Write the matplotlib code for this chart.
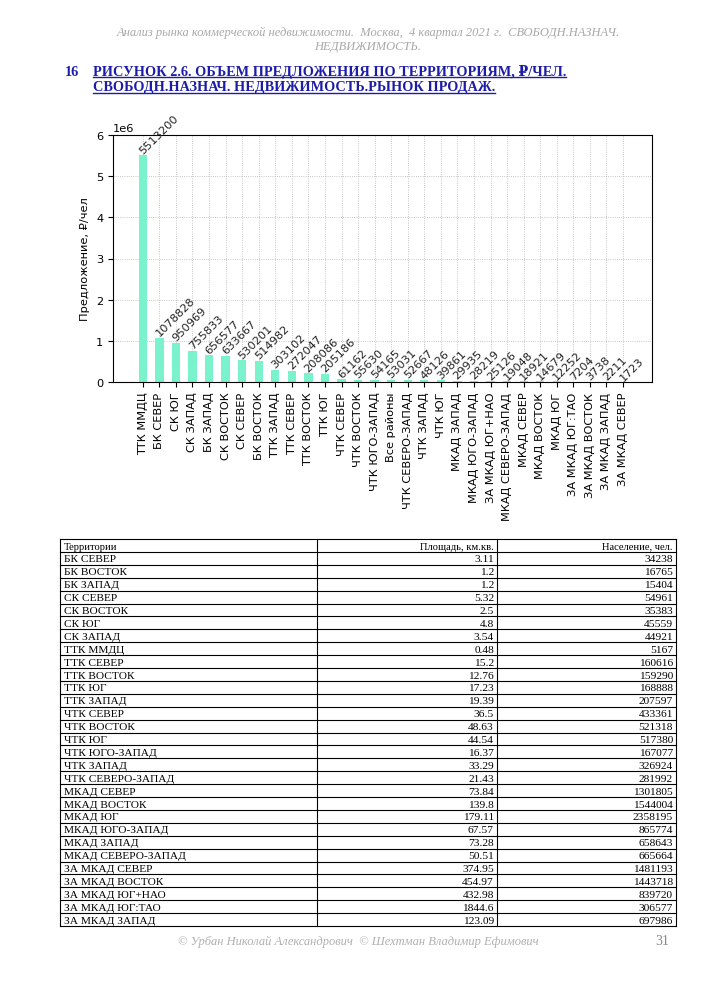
import matplotlib
matplotlib.use("Agg")
import matplotlib.pyplot as plt
from matplotlib.lines import Line2D

# ---------------- data ----------------
categories = ["ТТК ММДЦ", "БК СЕВЕР", "СК ЮГ", "СК ЗАПАД", "БК ЗАПАД", "СК ВОСТОК",
              "СК СЕВЕР", "БК ВОСТОК", "ТТК ЗАПАД", "ТТК СЕВЕР", "ТТК ВОСТОК", "ТТК ЮГ",
              "ЧТК СЕВЕР", "ЧТК ВОСТОК", "ЧТК ЮГО-ЗАПАД", "Все районы", "ЧТК СЕВЕРО-ЗАПАД",
              "ЧТК ЗАПАД", "ЧТК ЮГ", "МКАД ЗАПАД", "МКАД ЮГО-ЗАПАД", "ЗА МКАД ЮГ+НАО",
              "МКАД СЕВЕРО-ЗАПАД", "МКАД СЕВЕР", "МКАД ВОСТОК", "МКАД ЮГ", "ЗА МКАД ЮГ:ТАО",
              "ЗА МКАД ВОСТОК", "ЗА МКАД ЗАПАД", "ЗА МКАД СЕВЕР"]
values = [5513200, 1078828, 950969, 755833, 656577, 633667, 530201, 514982, 303102,
          272047, 208086, 205186, 61162, 55630, 54165, 53031, 52667, 48126, 39861,
          29935, 28219, 25126, 19048, 18921, 14679, 12252, 7204, 3738, 2211, 1723]

table_header = ["Территории", "Площадь, км.кв.", "Население, чел."]
territories = ["БК СЕВЕР", "БК ВОСТОК", "БК ЗАПАД", "СК СЕВЕР", "СК ВОСТОК", "СК ЮГ",
               "СК ЗАПАД", "ТТК ММДЦ", "ТТК СЕВЕР", "ТТК ВОСТОК", "ТТК ЮГ", "ТТК ЗАПАД",
               "ЧТК СЕВЕР", "ЧТК ВОСТОК", "ЧТК ЮГ", "ЧТК ЮГО-ЗАПАД", "ЧТК ЗАПАД",
               "ЧТК СЕВЕРО-ЗАПАД", "МКАД СЕВЕР", "МКАД ВОСТОК", "МКАД ЮГ", "МКАД ЮГО-ЗАПАД",
               "МКАД ЗАПАД", "МКАД СЕВЕРО-ЗАПАД", "ЗА МКАД СЕВЕР", "ЗА МКАД ВОСТОК",
               "ЗА МКАД ЮГ+НАО", "ЗА МКАД ЮГ:ТАО", "ЗА МКАД ЗАПАД"]
area = ["3.11", "1.2", "1.2", "5.32", "2.5", "4.8", "3.54", "0.48", "15.2", "12.76",
        "17.23", "19.39", "36.5", "48.63", "44.54", "16.37", "33.29", "21.43", "73.84",
        "139.8", "179.11", "67.57", "73.28", "50.51", "374.95", "454.97", "432.98",
        "1844.6", "123.09"]
population = ["34238", "16765", "15404", "54961", "35383", "45559", "44921", "5167",
              "160616", "159290", "168888", "207597", "433361", "521318", "517380",
              "167077", "326924", "281992", "1301805", "1544004", "2358195", "865774",
              "658643", "665664", "1481193", "1443718", "839720", "306577", "697986"]

header_lines = ["Анализ рынка коммерческой недвижимости.  Москва,  4 квартал 2021 г.  СВОБОДН.НАЗНАЧ.",
                "НЕДВИЖИМОСТЬ."]
title_num = "16"
title_lines = ["РИСУНОК 2.6. ОБЪЕМ ПРЕДЛОЖЕНИЯ ПО ТЕРРИТОРИЯМ, ₽/ЧЕЛ.",
               "СВОБОДН.НАЗНАЧ. НЕДВИЖИМОСТЬ.РЫНОК ПРОДАЖ."]
footer_text = "© Урбан Николай Александрович  © Шехтман Владимир Ефимович"
page_num = "31"

# ---------------- figure ----------------
W, H = 708, 987
fig = plt.figure(figsize=(W / 100, H / 100), dpi=100)
fig.patch.set_facecolor("white")

def fx(px):
    return px / W

def fy(py):
    return 1 - py / H

serif = ["Liberation Serif", "DejaVu Serif"]

# header
for i, line in enumerate(header_lines):
    fig.text(fx(368), fy(33 + 14 * i), line, ha="center", va="center",
             family=serif, style="italic", fontsize=9.0, color="#a8a8a8")

# title
title_color = "#1c1ca8"
fig.text(fx(65), fy(72), title_num, ha="left", va="center", family=serif,
         weight="bold", fontsize=10.3, color=title_color)
title_texts = []
for i, line in enumerate(title_lines):
    t = fig.text(fx(93), fy(72 + 16 * i), line, ha="left", va="center", family=serif,
                 weight="bold", fontsize=10.25, color=title_color)
    title_texts.append(t)

# ---------------- chart ----------------
ax_left, ax_right, ax_top, ax_bottom = 113, 652, 136, 383
ax = fig.add_axes([fx(ax_left), fy(ax_bottom), fx(ax_right - ax_left),
                   (ax_bottom - ax_top) / H])
x = list(range(len(categories)))
ax.bar(x, values, width=0.5, color="#7af2cb", zorder=2)
ax.set_axisbelow(True)
ax.grid(True, linestyle=":", linewidth=0.6, color="#b5b5b5")
ax.set_xlim(-1.8, len(categories) - 1 + 1.75)
ax.set_ylim(0, 6.0e6)
ax.set_xticks(x)
ax.set_xticklabels(categories, rotation=90, fontsize=8.2)
ax.tick_params(axis="y", labelsize=8.2)
ax.yaxis.get_offset_text().set_fontsize(8.2)
ax.set_ylabel("Предложение, ₽/чел", fontsize=8.2)
for xi, v in zip(x, values):
    ax.text(xi + 0.1, v, str(v), rotation=45, rotation_mode="anchor", ha="left",
            va="bottom", fontsize=8.2, color="#222222")

# ---------------- table ----------------
tab_top, tab_bottom = 540, 927
col_x = [60, 317, 497, 676]
rows = [table_header] + [[t, a, p] for t, a, p in zip(territories, area, population)]
n_rows = len(rows)
rh = (tab_bottom - tab_top) / n_rows
for r in range(n_rows + 1):
    yy = tab_top + r * rh
    fig.add_artist(Line2D([fx(col_x[0]), fx(col_x[-1])], [fy(yy), fy(yy)],
                          color="black", linewidth=0.8))
for cx in col_x:
    fig.add_artist(Line2D([fx(cx), fx(cx)], [fy(tab_top), fy(tab_bottom)],
                          color="black", linewidth=0.8))
for r, row in enumerate(rows):
    yc = tab_top + (r + 0.55) * rh
    fs = 7.6 if r == 0 else 8.2
    fig.text(fx(col_x[0] + 4), fy(yc), row[0], ha="left", va="center",
             family=serif, fontsize=fs, color="black")
    fig.text(fx(col_x[2] - 3), fy(yc), row[1], ha="right", va="center",
             family=serif, fontsize=fs, color="black")
    fig.text(fx(col_x[3] - 3), fy(yc), row[2], ha="right", va="center",
             family=serif, fontsize=fs, color="black")

# footer
fig.text(fx(358), fy(942), footer_text, ha="center", va="center", family=serif,
         style="italic", fontsize=9, color="#b0b0b0")
fig.text(fx(662), fy(942), page_num, ha="center", va="center", family=serif,
         fontsize=10, color="#888888")

# underline for title
fig.canvas.draw()
renderer = fig.canvas.get_renderer()
for t in title_texts:
    bb = t.get_window_extent(renderer)
    y_line = bb.y0 + 1
    fig.add_artist(Line2D([bb.x0 / W, bb.x1 / W], [y_line / H, y_line / H],
                          color=title_color, linewidth=1.0))

fig.savefig("out.png", dpi=100, facecolor="white")
